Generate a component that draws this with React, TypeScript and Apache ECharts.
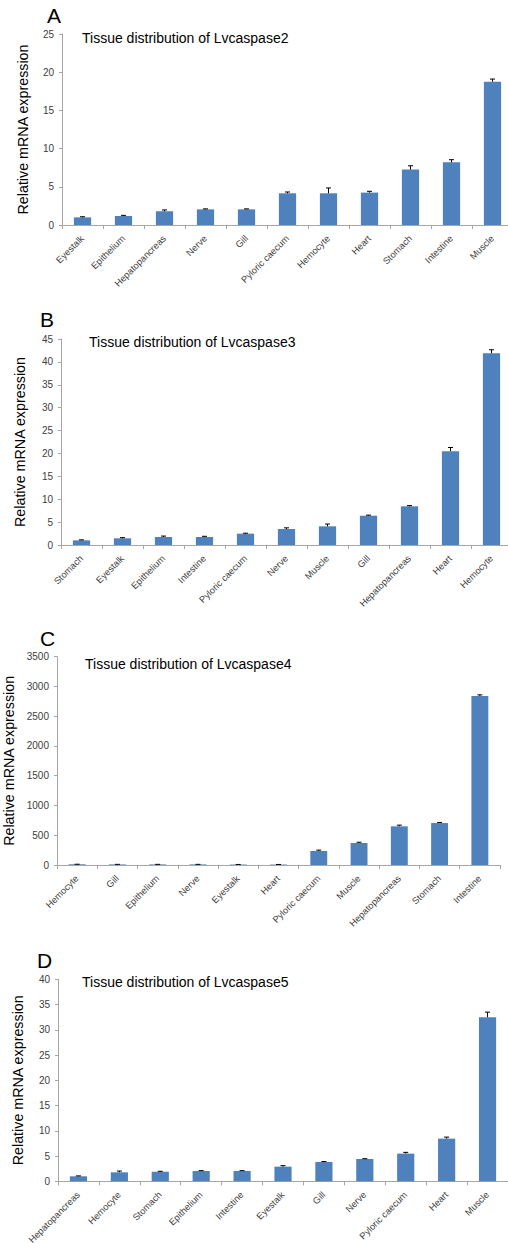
import React, { useEffect, useRef } from "react";
import * as echarts from "echarts";

// ---- Data ----
const catsA = ["Eyestalk", "Epithelium", "Hepatopancreas", "Nerve", "Gill", "Pyloric caecum", "Hemocyte", "Heart", "Stomach", "Intestine", "Muscle"];
const valsA = [1.0, 1.18, 1.8, 2.05, 2.05, 4.15, 4.15, 4.24, 7.25, 8.2, 18.75];
const errsA = [0.08, 0.08, 0.17, 0.06, 0.06, 0.17, 0.7, 0.17, 0.5, 0.35, 0.35];

const catsB = ["Stomach", "Eyestalk", "Epithelium", "Intestine", "Pyloric caecum", "Nerve", "Muscle", "Gill", "Hepatopancreas", "Heart", "Hemocyte"];
const valsB = [1.02, 1.46, 1.75, 1.75, 2.48, 3.5, 4.08, 6.4, 8.45, 20.5, 41.9];
const errsB = [0.1, 0.15, 0.2, 0.15, 0.1, 0.25, 0.5, 0.12, 0.15, 0.8, 0.75];

const catsC = ["Hemocyte", "Gill", "Epithelium", "Nerve", "Eyestalk", "Heart", "Pyloric caecum", "Muscle", "Hepatopancreas", "Stomach", "Intestine"];
const valsC = [12, 10, 10, 10, 8, 8, 235, 370, 650, 705, 2839];
const errsC = [1, 1, 1, 1, 1, 1, 15, 12, 20, 10, 20];

const catsD = ["Hepatopancreas", "Hemocyte", "Stomach", "Epithelium", "Intestine", "Eyestalk", "Gill", "Nerve", "Pyloric caecum", "Heart", "Muscle"];
const valsD = [0.99, 1.78, 1.9, 2.05, 2.05, 2.9, 3.83, 4.42, 5.48, 8.45, 32.5];
const errsD = [0.08, 0.25, 0.08, 0.06, 0.06, 0.2, 0.08, 0.06, 0.25, 0.3, 1.0];

const titles = ["Tissue distribution of Lvcaspase2", "Tissue distribution of Lvcaspase3", "Tissue distribution of Lvcaspase4", "Tissue distribution of Lvcaspase5"];
const letters = ["A", "B", "C", "D"];
const yMax = [25, 45, 3500, 40];
const yStep = [5, 5, 500, 5];
const yName = "Relative mRNA expression";

// ---- Layout ----
const grids = [
  { left: 62, top: 34, width: 451, height: 191 },
  { left: 61, top: 339, width: 451, height: 206 },
  { left: 57, top: 656.7, width: 443, height: 208.3 },
  { left: 58, top: 979.3, width: 450, height: 202 },
];
const titlePos = [
  { x: 82, y: 39 },
  { x: 89, y: 343 },
  { x: 85, y: 665 },
  { x: 82, y: 983 },
];
const letterPos = [
  { x: 47, y: 15 },
  { x: 40, y: 319.5 },
  { x: 40, y: 638.5 },
  { x: 37, y: 960 },
];
const nameGaps = [32.5, 34.5, 34.5, 33.5];

const FONT = "Liberation Sans";
const BAR = "#4F81BD";
const AXIS = "#A6A6A6";
const LABEL = "#404040";

export default function App() {
  const ref = useRef<HTMLDivElement>(null);
  useEffect(() => {
    if (!ref.current) return;
    const chart = echarts.init(ref.current, undefined, { renderer: "svg" });
    const panels = [
      { cats: catsA, vals: valsA, errs: errsA },
      { cats: catsB, vals: valsB, errs: errsB },
      { cats: catsC, vals: valsC, errs: errsC },
      { cats: catsD, vals: valsD, errs: errsD },
    ];
    const errRender = (params: any, api: any) => {
      const x = api.value(0);
      const v = api.value(1);
      const e = api.value(2);
      const p0 = api.coord([x, v]);
      const p1 = api.coord([x, v + e]);
      return {
        type: "group",
        children: [
          { type: "line", shape: { x1: p0[0], y1: p0[1], x2: p1[0], y2: p1[1] }, style: { stroke: "#000", lineWidth: 1 } },
          { type: "line", shape: { x1: p1[0] - 2.5, y1: p1[1], x2: p1[0] + 2.5, y2: p1[1] }, style: { stroke: "#000", lineWidth: 1 } },
        ],
      };
    };
    const option: any = {
      animation: false,
      backgroundColor: "#fff",
      title: titles.map((t, i) => ({
        text: t,
        left: titlePos[i].x,
        top: titlePos[i].y - 8,
        padding: 0,
        textStyle: { fontSize: 14, fontWeight: "normal", color: "#000", fontFamily: FONT },
      })),
      graphic: letters.map((l, i) => ({
        type: "text",
        x: letterPos[i].x,
        y: letterPos[i].y,
        style: { text: l, fontSize: 21, fontFamily: FONT, fill: "#000", verticalAlign: "middle", align: "left" },
      })),
      grid: grids.map((g) => ({ ...g, containLabel: false, outerBoundsMode: "none" })),
      xAxis: panels.map((p, i) => ({
        type: "category",
        gridIndex: i,
        data: p.cats,
        axisLine: { lineStyle: { color: AXIS, width: 1 } },
        axisTick: { show: true, length: 4, lineStyle: { color: AXIS } },
        axisLabel: { rotate: 45, interval: 0, fontSize: 9.3, color: LABEL, fontFamily: FONT, margin: 12 },
      })),
      yAxis: panels.map((p, i) => ({
        type: "value",
        gridIndex: i,
        min: 0,
        max: yMax[i],
        interval: yStep[i],
        name: yName,
        nameLocation: "middle",
        nameGap: nameGaps[i],
        nameTextStyle: { fontSize: 14.3, color: "#000", fontFamily: FONT },
        axisLine: { show: true, lineStyle: { color: AXIS, width: 1 } },
        axisTick: { show: true, length: 3, lineStyle: { color: AXIS } },
        splitLine: { show: false },
        axisLabel: { fontSize: 10, color: LABEL, fontFamily: FONT, margin: 8, formatter: (v: number) => String(v) },
      })),
      series: [
        ...panels.map((p, i) => ({
          type: "bar",
          xAxisIndex: i,
          yAxisIndex: i,
          data: p.vals,
          barWidth: "42%",
          itemStyle: { color: BAR },
        })),
        ...panels.map((p, i) => ({
          type: "custom",
          xAxisIndex: i,
          yAxisIndex: i,
          z: 5,
          renderItem: errRender,
          encode: { x: 0, y: 1 },
          data: p.cats.map((c, j) => [j, p.vals[j], p.errs[j]]),
        })),
      ],
    };
    chart.setOption(option);
    return () => chart.dispose();
  }, []);
  return (
    <div
      ref={ref}
      style={{ position: "absolute", left: 0, top: 0, width: 508, height: 1243, background: "#fff" }}
    />
  );
}
